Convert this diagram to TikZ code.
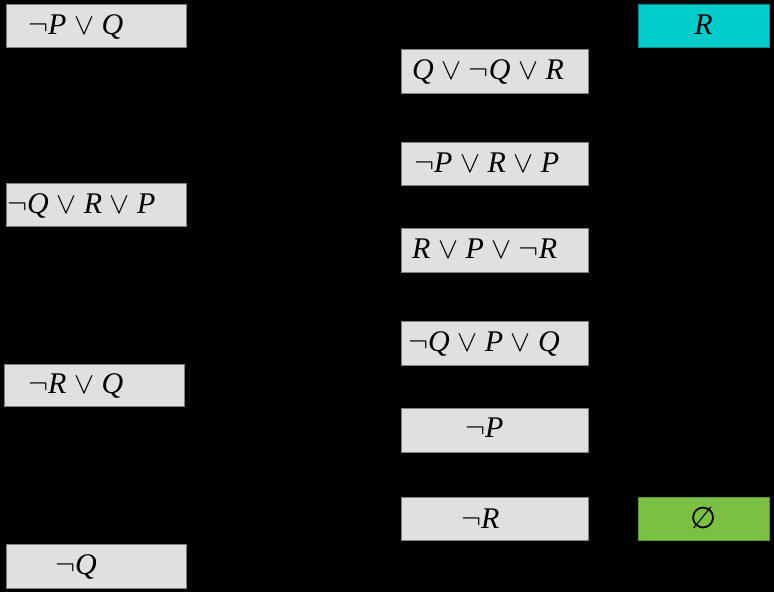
\RequirePackage{fix-cm}
\documentclass[tikz,border=0pt]{standalone}
\usepackage{fontspec}
\setmainfont{Liberation Serif}
\newfontfamily\symfont{DejaVu Sans}
\newcommand\clOr{\ensuremath{\lor}}
\newcommand\clNot{\ensuremath{\neg}}
\newcommand\clEmpty{{\symfont\upshape ∅}}
\definecolor{boxgray}{RGB}{224,224,224}
\definecolor{edgegray}{RGB}{128,128,128}
\definecolor{cyanfill}{RGB}{0,204,204}
\definecolor{cyanedge}{RGB}{0,140,140}
\definecolor{greenfill}{RGB}{122,193,67}
\definecolor{greenedge}{RGB}{90,150,50}
\tikzset{
  clausebox/.style={rectangle, draw=edgegray, fill=boxgray, line width=0.8pt, inner sep=0pt, anchor=north west},
  resbox/.style={clausebox, fill=cyanfill, draw=cyanedge},
  emptybox/.style={clausebox, fill=greenfill, draw=greenedge},
  lbl/.style={inner sep=0pt, anchor=base west, font=\fontsize{30}{32}\selectfont\itshape},
  clbl/.style={lbl, anchor=base},
}
\begin{document}
\begin{tikzpicture}[x=1pt,y=-1pt]
\fill[black] (0,0) rectangle (774,592);
\useasboundingbox (0,0) rectangle (774,592);
% left column
\node[clausebox, minimum width=180pt, minimum height=43pt] (L1) at (6,4) {};
\node[lbl] (tL1) at (28,34) {\clNot P \clOr{} Q};
\node[clausebox, minimum width=180pt, minimum height=43pt] (L2) at (6,183) {};
\node[lbl] (tL2) at (7,213) {\clNot Q \clOr{} R \clOr{} P};
\node[clausebox, minimum width=180pt, minimum height=42pt] (L3) at (4,364) {};
\node[lbl] (tL3) at (28,393.5) {\clNot R \clOr{} Q};
\node[clausebox, minimum width=180pt, minimum height=44pt] (L4) at (6,544) {};
\node[lbl] (tL4) at (55,574.5) {\clNot Q};
% middle column
\node[clausebox, minimum width=187pt, minimum height=44pt] (M1) at (401,49) {};
\node[lbl] (tM1) at (412,79.5) {Q \clOr{} \clNot Q \clOr{} R};
\node[clausebox, minimum width=187pt, minimum height=43pt] (M2) at (401,142) {};
\node[lbl] (tM2) at (414,172) {\clNot P \clOr{} R \clOr{} P};
\node[clausebox, minimum width=187pt, minimum height=44pt] (M3) at (401,228) {};
\node[lbl] (tM3) at (412,258.5) {R \clOr{} P \clOr{} \clNot R};
\node[clausebox, minimum width=187pt, minimum height=44pt] (M4) at (401,321) {};
\node[lbl] (tM4) at (408,351.5) {\clNot Q \clOr{} P \clOr{} Q};
\node[clausebox, minimum width=187pt, minimum height=44pt] (M5) at (401,408) {};
\node[lbl] (tM5) at (465,437) {\clNot P};
\node[clausebox, minimum width=187pt, minimum height=43pt] (M6) at (401,497) {};
\node[lbl] (tM6) at (461,528.5) {\clNot R};
% right column
\node[resbox, minimum width=131pt, minimum height=43pt] (R1) at (638,4) {};
\node[clbl] (tR1) at (703.5,34) {R};
\node[emptybox, minimum width=131pt, minimum height=43pt] (R2) at (638,497) {};
\node[clbl] (tR2) at (703.5,528) {\clEmpty};
\end{tikzpicture}
\end{document}
